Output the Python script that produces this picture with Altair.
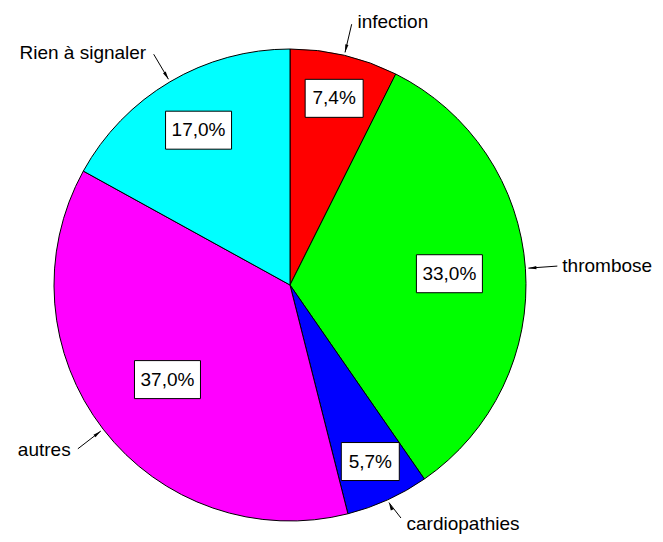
import altair as alt
import pandas as pd

categories = ["infection", "thrombose", "cardiopathies", "autres", "Rien à signaler"]
values = [7.4, 33.0, 5.7, 37.0, 17.0]
value_labels = ["7,4%", "33,0%", "5,7%", "37,0%", "17,0%"]
colors = ["#FF0000", "#00FF00", "#0000FF", "#FF00FF", "#00FFFF"]

df = pd.DataFrame({"cat": categories, "value": values, "label": value_labels,
                   "idx": list(range(len(categories)))})

CX, CY, R = 282, 277, 236
W, H = 647, 526
FONT = "Liberation Sans"

pie = alt.Chart(df).mark_arc(outerRadius=R, stroke="black", strokeWidth=1).encode(
    theta=alt.Theta("value:Q", stack=True),
    order=alt.Order("idx:Q"),
    color=alt.Color("cat:N", scale=alt.Scale(domain=categories, range=colors), legend=None),
    x=alt.value(CX), y=alt.value(CY),
)

base = (alt.Chart(df)
        .transform_window(cum="sum(value)", sort=[alt.SortField("idx")], frame=[None, 0])
        .transform_joinaggregate(total="sum(value)")
        .transform_calculate(mid="(datum.cum - datum.value/2)/datum.total*2*PI")
        .transform_calculate(
            lr=f"{R}*(0.852 - 0.0053*datum.value)",
            w="8*length(datum.label)+26",
            s="sin(datum.mid)", c="cos(datum.mid)",
            middeg="datum.mid*180/PI",
        )
        .transform_calculate(
            bx=f"{CX} + datum.lr*datum.s", by=f"{CY} - datum.lr*datum.c",
            tipx=f"{CX} + {R+3}*datum.s", tipy=f"{CY} - {R+3}*datum.c",
            headx=f"{CX} + {R+7}*datum.s", heady=f"{CY} - {R+7}*datum.c",
            tailx=f"{CX} + {R+32}*datum.s", taily=f"min({CY} - {R+32}*datum.c, {H-16})",
            tx=f"{CX} + {R+31}*datum.s", ty=f"min({CY} - {R+34}*datum.c, {H-10})",
            ang="(datum.middeg + 180) % 360",
        )
        .transform_calculate(
            x1="datum.bx - datum.w/2", x2="datum.bx + datum.w/2",
            y1="datum.by - 19", y2="datum.by + 19",
        ))

def X(f):
    return alt.X(f + ":Q", scale=None, axis=None)

def Y(f):
    return alt.Y(f + ":Q", scale=None, axis=None)

boxes = base.mark_rect(fill="white", stroke="black", strokeWidth=1).encode(
    x=X("x1"), x2="x2:Q", y=Y("y1"), y2="y2:Q")

box_text = base.mark_text(font=FONT, fontSize=19, color="black", baseline="middle",
                          align="center").encode(x=X("bx"), y=Y("by"), text="label:N")

rules = base.mark_rule(color="black", strokeWidth=1).encode(
    x=X("tailx"), y=Y("taily"), x2="tipx:Q", y2="tipy:Q")

heads = base.mark_point(shape="M0,-1L0.4,1L-0.4,1Z", filled=True, color="black",
                        size=64, opacity=1).encode(
    x=X("headx"), y=Y("heady"), angle=alt.Angle("ang:Q", scale=None))

right_text = base.transform_filter("datum.s >= 0").mark_text(
    font=FONT, fontSize=19, color="black", baseline="middle", align="left", dx=6
).encode(x=X("tx"), y=Y("ty"), text="cat:N")

left_text = base.transform_filter("datum.s < 0").mark_text(
    font=FONT, fontSize=19, color="black", baseline="middle", align="right", dx=-8
).encode(x=X("tx"), y=Y("ty"), text="cat:N")

chart = alt.layer(pie, rules, heads, boxes, box_text, right_text, left_text).properties(
    width=W, height=H, autosize=alt.AutoSizeParams(type="none"), padding=0
).configure_view(stroke=None)

chart.save("out.html", embed_options={"renderer": "svg", "actions": False})
